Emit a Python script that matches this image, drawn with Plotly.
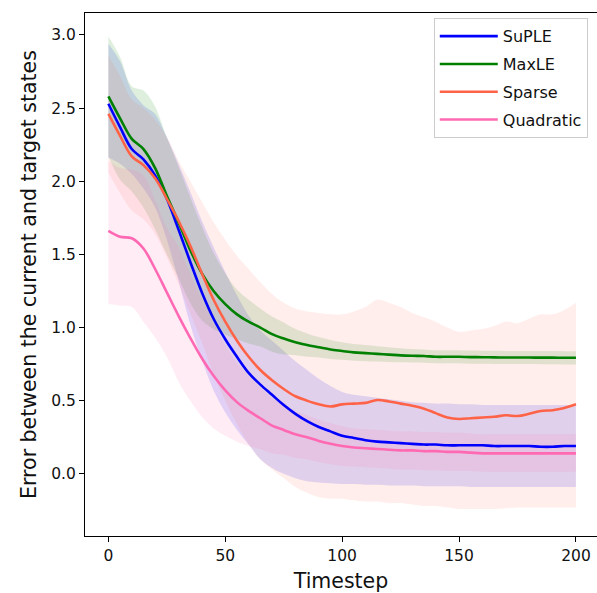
import plotly.graph_objects as go

timesteps = list(range(0, 201, 5))

suple_mean = [2.53, 2.37, 2.22, 2.15, 2.04, 1.88, 1.67, 1.45, 1.24, 1.06, 0.92, 0.80, 0.69, 0.61, 0.54, 0.47, 0.41, 0.36, 0.32, 0.29, 0.26,
              0.245, 0.23, 0.22, 0.215, 0.21, 0.205, 0.20, 0.20, 0.195, 0.195, 0.195, 0.195, 0.19, 0.19, 0.19, 0.19, 0.185, 0.185, 0.19, 0.19]
suple_upper = [2.94, 2.82, 2.62, 2.52, 2.46, 2.30, 2.12, 1.93, 1.73, 1.55, 1.38, 1.22, 1.08, 0.98, 0.91, 0.84, 0.77, 0.71, 0.65, 0.60, 0.56,
               0.54, 0.53, 0.52, 0.51, 0.50, 0.49, 0.485, 0.48, 0.48, 0.475, 0.475, 0.47, 0.47, 0.47, 0.47, 0.47, 0.47, 0.47, 0.47, 0.47]
suple_lower = [2.16, 2.12, 2.05, 1.95, 1.82, 1.60, 1.32, 1.02, 0.78, 0.57, 0.42, 0.30, 0.20, 0.10, 0.04, 0.00, -0.03, -0.05, -0.06, -0.065, -0.07,
               -0.07, -0.075, -0.075, -0.08, -0.08, -0.08, -0.085, -0.085, -0.085, -0.085, -0.09, -0.09, -0.09, -0.09, -0.09, -0.09, -0.09, -0.09, -0.09, -0.09]

maxle_mean = [2.58, 2.43, 2.29, 2.22, 2.09, 1.90, 1.72, 1.53, 1.37, 1.25, 1.16, 1.09, 1.04, 1.00, 0.955, 0.925, 0.90, 0.88, 0.865, 0.85, 0.84,
              0.83, 0.825, 0.82, 0.815, 0.81, 0.807, 0.805, 0.80, 0.80, 0.80, 0.798, 0.797, 0.796, 0.795, 0.795, 0.795, 0.794, 0.794, 0.793, 0.793]
maxle_upper = [2.99, 2.85, 2.65, 2.62, 2.51, 2.30, 2.10, 1.89, 1.69, 1.51, 1.37, 1.26, 1.19, 1.13, 1.075, 1.035, 0.99, 0.96, 0.935, 0.915, 0.90,
               0.887, 0.88, 0.872, 0.865, 0.858, 0.853, 0.85, 0.845, 0.845, 0.845, 0.843, 0.842, 0.841, 0.84, 0.84, 0.84, 0.839, 0.839, 0.838, 0.838]
maxle_lower = [2.17, 2.01, 1.93, 1.82, 1.67, 1.50, 1.34, 1.17, 1.05, 0.99, 0.95, 0.92, 0.89, 0.87, 0.835, 0.815, 0.81, 0.80, 0.795, 0.785, 0.78,
               0.773, 0.77, 0.768, 0.765, 0.762, 0.761, 0.76, 0.755, 0.755, 0.755, 0.753, 0.752, 0.751, 0.75, 0.75, 0.75, 0.749, 0.749, 0.748, 0.748]

sparse_mean = [2.46, 2.31, 2.17, 2.11, 2.02, 1.88, 1.73, 1.56, 1.37, 1.19, 1.04, 0.91, 0.80, 0.71, 0.64, 0.58, 0.53, 0.50, 0.475, 0.46, 0.475,
               0.48, 0.485, 0.505, 0.495, 0.48, 0.465, 0.445, 0.415, 0.385, 0.375, 0.38, 0.385, 0.39, 0.40, 0.395, 0.41, 0.43, 0.435, 0.45, 0.475]
sparse_upper = [2.86, 2.72, 2.56, 2.50, 2.42, 2.30, 2.14, 2.00, 1.86, 1.72, 1.60, 1.49, 1.40, 1.31, 1.23, 1.17, 1.13, 1.11, 1.10, 1.09, 1.09,
                1.11, 1.14, 1.19, 1.17, 1.14, 1.10, 1.07, 1.04, 1.00, 0.97, 0.98, 0.99, 1.01, 1.04, 1.03, 1.06, 1.09, 1.09, 1.12, 1.17]
sparse_lower = [2.06, 1.92, 1.80, 1.74, 1.64, 1.48, 1.30, 1.10, 0.90, 0.68, 0.50, 0.34, 0.20, 0.10, 0.03, -0.03, -0.09, -0.13, -0.16, -0.17, -0.17,
                -0.18, -0.19, -0.19, -0.20, -0.20, -0.21, -0.22, -0.22, -0.23, -0.24, -0.24, -0.24, -0.24, -0.235, -0.23, -0.23, -0.23, -0.23, -0.23, -0.23]

quad_mean = [1.66, 1.62, 1.61, 1.54, 1.40, 1.24, 1.08, 0.93, 0.79, 0.67, 0.57, 0.49, 0.43, 0.38, 0.33, 0.30, 0.27, 0.25, 0.225, 0.205, 0.19,
             0.18, 0.175, 0.17, 0.165, 0.16, 0.16, 0.155, 0.155, 0.15, 0.15, 0.145, 0.14, 0.14, 0.14, 0.14, 0.14, 0.14, 0.14, 0.14, 0.14]
quad_upper = [2.14, 2.09, 2.08, 2.04, 1.87, 1.68, 1.55, 1.37, 1.19, 1.03, 0.88, 0.76, 0.67, 0.59, 0.52, 0.47, 0.43, 0.40, 0.37, 0.345, 0.325,
              0.31, 0.305, 0.30, 0.295, 0.29, 0.29, 0.285, 0.285, 0.28, 0.28, 0.275, 0.27, 0.27, 0.27, 0.27, 0.27, 0.27, 0.27, 0.27, 0.27]
quad_lower = [1.16, 1.15, 1.14, 1.04, 0.93, 0.80, 0.63, 0.50, 0.39, 0.31, 0.26, 0.22, 0.19, 0.17, 0.14, 0.13, 0.11, 0.10, 0.08, 0.065, 0.055,
              0.05, 0.045, 0.04, 0.035, 0.03, 0.03, 0.025, 0.025, 0.02, 0.02, 0.02, 0.015, 0.015, 0.015, 0.015, 0.015, 0.015, 0.015, 0.015, 0.015]

names = ["SuPLE", "MaxLE", "Sparse", "Quadratic"]
colors = ["#0000ff", "#008000", "#ff6347", "#ff69b4"]
fills = ["rgba(0,0,255,0.13)", "rgba(0,128,0,0.13)", "rgba(255,99,71,0.11)", "rgba(255,105,180,0.13)"]
means = [suple_mean, maxle_mean, sparse_mean, quad_mean]
uppers = [suple_upper, maxle_upper, sparse_upper, quad_upper]
lowers = [suple_lower, maxle_lower, sparse_lower, quad_lower]

fig = go.Figure()
for name, fc, lo, up in zip(names, fills, lowers, uppers):
    fig.add_trace(go.Scatter(x=timesteps, y=lo, mode="lines", line=dict(width=0, shape="spline"),
                             showlegend=False, hoverinfo="skip", legendgroup=name))
    fig.add_trace(go.Scatter(x=timesteps, y=up, mode="lines", line=dict(width=0, shape="spline"),
                             fill="tonexty", fillcolor=fc, showlegend=False, hoverinfo="skip", legendgroup=name))
for name, c, m in zip(names, colors, means):
    fig.add_trace(go.Scatter(x=timesteps, y=m, mode="lines", name=name, legendgroup=name,
                             line=dict(color=c, width=2.6, shape="spline")))

font_family = "DejaVu Sans"
axis_common = dict(showline=True, linecolor="black", linewidth=1, mirror=True, showgrid=False, zeroline=False,
                   ticks="outside", ticklen=5, tickwidth=1, tickcolor="black",
                   tickfont=dict(family=font_family, size=15.5, color="#111111"))
fig.update_xaxes(range=[-10, 209], tick0=0, dtick=50,
                 title=dict(text="Timestep", font=dict(family=font_family, size=20.5, color="#111111"), standoff=10),
                 **axis_common)
fig.update_yaxes(range=[-0.425, 3.15], tick0=0, dtick=0.5, tickformat=".1f",
                 title=dict(text="Error between the current and target states",
                            font=dict(family=font_family, size=20.5, color="#111111"), standoff=9),
                 **axis_common)
fig.update_layout(
    width=597, height=593,
    margin=dict(l=85, r=0, t=13, b=57, autoexpand=False),
    plot_bgcolor="white", paper_bgcolor="white",
    legend=dict(x=0.982, y=0.99, xanchor="right", yanchor="top",
                bgcolor="rgba(255,255,255,0.8)", bordercolor="#cccccc", borderwidth=1,
                font=dict(family=font_family, size=16, color="#111111"),
                tracegroupgap=4, itemwidth=58),
)
fig.write_html("out.html", config={"displayModeBar": False},
               post_script="document.body.style.margin='0px';document.body.style.overflow='hidden';")
